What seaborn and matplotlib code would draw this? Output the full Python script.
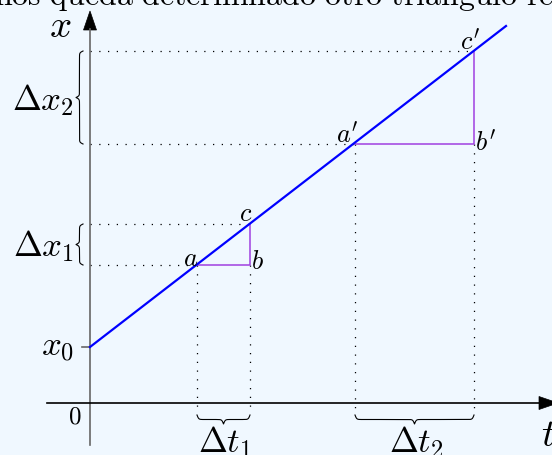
import numpy as np
import pandas as pd
import matplotlib.pyplot as plt
import seaborn as sns

# diagram data (in picture units, y grows downward)
line_t = [90, 506]
line_x = [348, 27]

tri1_t = [197, 250, 250]
tri1_x = [266, 266, 225]
tri2_t = [355, 474, 474]
tri2_x = [145, 145, 52]

# dotted guides: point (t, x)
guide_t = [197, 250, 355, 474]
guide_x = [266, 225, 145, 52]
drop_x = [266, 266, 145, 145]

axis_t0 = 90
axis_x0 = 404

labels = ['a', 'b', 'c', "a'", "b'", "c'"]
label_t = [191, 257, 246, 347, 486, 470]
label_x = [259, 262, 214, 136, 144, 43]

bg = '#F0F8FF'
plt.rcParams['mathtext.fontset'] = 'cm'

fig = plt.figure(figsize=(5.52, 4.56), dpi=100, facecolor=bg)
ax = fig.add_axes([0, 0, 1, 1])
ax.set_facecolor(bg)
ax.set_xlim(0, 552)
ax.set_ylim(456, 0)
ax.axis('off')


def brace(p0, p1, depth, n=300):
    # curly brace shape along a segment, returns offset (0..1) * depth
    L = abs(p1 - p0)
    u = np.linspace(0, L / 2, n)
    k = 1.2
    y = 1 / (1 + np.exp(-k * (u - u[0]))) + 1 / (1 + np.exp(-k * (u - u[-1])))
    y = (y - y[0]) / (y[-1] - y[0])
    s = np.concatenate([u, L - u[::-1]])
    d = np.concatenate([y, y[::-1]])
    return p0 + s * np.sign(p1 - p0), d * depth


dot = dict(color='black', lw=0.9, dashes=(1, 6))

# dotted guides
for t, x in zip(guide_t, guide_x):
    sns.lineplot(x=[axis_t0, t], y=[x, x], ax=ax, sort=False, estimator=None, **dot)
for t, xd in zip(guide_t, drop_x):
    sns.lineplot(x=[t, t], y=[xd, 412], ax=ax, sort=False, estimator=None, **dot)

# axes
sns.lineplot(x=[axis_t0, axis_t0], y=[446, 30], ax=ax, color='#666666', lw=1.2,
             sort=False, estimator=None)
sns.lineplot(x=[47, 540], y=[axis_x0, axis_x0], ax=ax, color='black', lw=1.2,
             sort=False, estimator=None)
sns.lineplot(x=[82, axis_t0], y=[line_x[0], line_x[0]], ax=ax, color='#666666', lw=1.2,
             sort=False, estimator=None)
ax.arrow(axis_t0, 31, 0, -19, width=0, head_width=13, head_length=19,
         length_includes_head=True, color='black', lw=0.5)
ax.arrow(539, axis_x0, 19, 0, width=0, head_width=13, head_length=19,
         length_includes_head=True, color='black', lw=0.5)

# triangles
purple = '#A040E0'
sns.lineplot(x=tri1_t, y=tri1_x, ax=ax, color=purple, lw=1.1, sort=False, estimator=None)
sns.lineplot(x=tri2_t, y=tri2_x, ax=ax, color=purple, lw=1.1, sort=False, estimator=None)

# main line
sns.lineplot(x=line_t, y=line_x, ax=ax, color='#0000FF', lw=1.6, sort=False, estimator=None)

# braces
for (x0, x1), lab, ly in [((52, 145), r'$\Delta x_2$', 100), ((225, 266), r'$\Delta x_1$', 246)]:
    s, d = brace(x0, x1, 7)
    ax.plot(83 - d, s, color='black', lw=0.8)
    ax.text(43, ly, lab, fontsize=25, ha='center', va='center')
for (t0, t1), lab, lx in [((197, 250), r'$\Delta t_1$', 225), ((355, 474), r'$\Delta t_2$', 416)]:
    s, d = brace(t0, t1, 9)
    ax.plot(s, 416 + d, color='black', lw=0.8)
    ax.text(lx, 442, lab, fontsize=25, ha='center', va='center')

# point labels
for lab, t, x in zip(labels, label_t, label_x):
    ax.text(t, x, '$' + lab + '$', fontsize=19, ha='center', va='center')

ax.text(58, 347, r'$x_0$', fontsize=25, ha='center', va='center')
ax.text(75, 417, r'$0$', fontsize=18, ha='center', va='center')
ax.text(60, 26, r'$x$', fontsize=28, ha='center', va='center')
ax.text(548, 435, r'$t$', fontsize=28, ha='center', va='center')

ax.text(-6, 6, r'$\mathrm{nos\ queda\ determinado\ otro\ tri\acute{a}ngulo\ re}$',
        fontsize=23, ha='left', va='baseline')

fig.savefig('out.png', dpi=100, facecolor=bg)
